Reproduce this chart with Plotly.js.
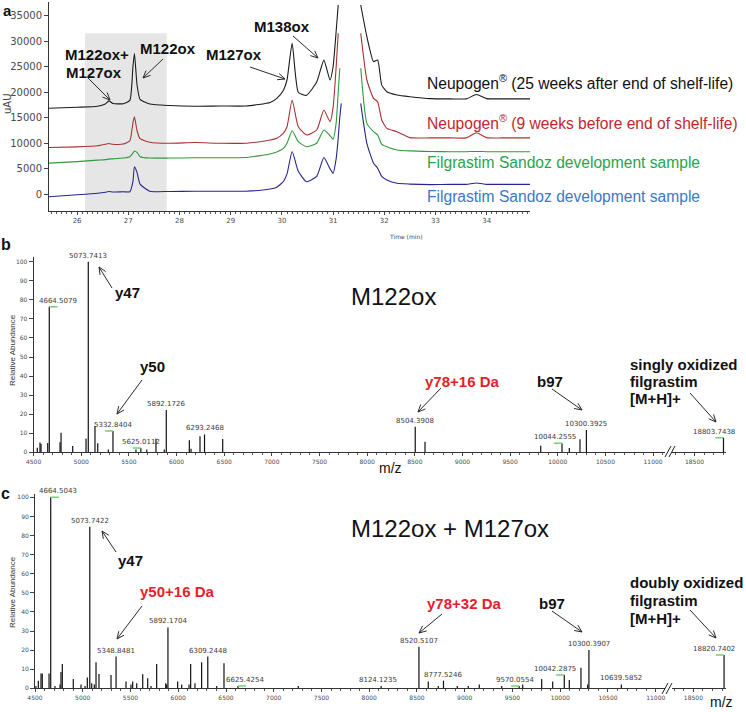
<!DOCTYPE html>
<html><head><meta charset="utf-8">
<script src="https://cdn.plot.ly/plotly-3.0.1.min.js"></script>
<style>html,body{margin:0;padding:0;background:#fff}#chart{width:746px;height:712px}</style>
</head><body><div id="chart"></div>
<script>
// ---------- Panel a: chromatograms (Time, min vs uAU) ----------
const timeMin = [25.45, 26.0, 26.4, 26.55, 26.62, 26.7, 26.9, 27.03, 27.09, 27.12, 27.17, 27.23, 27.42, 27.8, 28.3, 28.8, 29.3, 29.77, 29.9, 30.03, 30.1, 30.2, 30.32, 30.48, 30.68, 30.82, 30.94, 31.0, 31.06, 31.1, 31.13, 31.16, 31.3, 31.54, 31.66, 31.79, 31.87, 31.95, 32.05, 32.25, 32.5, 32.9, 33.3, 33.6, 33.8, 34.0, 34.3, 34.85];
const neupogen25wAfter = [16850, 17050, 17250, 17700, 18300, 17800, 17750, 18400, 25000, 27600, 21500, 18600, 17700, 17400, 17250, 17300, 17300, 18000, 18800, 20400, 22400, 29600, 20000, 19400, 22000, 26300, 22400, 25000, 32000, 37100, null, null, null, 37100, 30900, 26000, 26300, 21400, 20100, 19460, 19130, 18750, 18700, 18700, 19550, 18750, 18700, 18700];
const neupogen9wBefore = [9170, 9300, 9500, 9800, 9950, 9800, 9850, 10500, 14000, 15200, 12500, 10900, 10200, 10000, 10150, 10000, 10000, 10640, 11000, 12000, 13250, 18480, 13250, 11620, 12600, 16520, 14230, 17000, 25000, 31550, null, null, null, 31550, 22400, 18800, 18150, 14560, 12930, 12270, 11100, 11050, 11050, 11050, 12050, 11100, 11050, 11050];
const sandozDevA = [6100, 6400, 6700, 6800, 6900, 6950, 7100, 7370, 8100, 8490, 8200, 7370, 7100, 7100, 7150, 7150, 7200, 7900, 8300, 9000, 10000, 12460, 10300, 9330, 10000, 12600, 11500, 10800, 14000, 20000, 24690, null, null, 24690, 13900, 12270, 11620, 9800, 9330, 8680, 8500, 8400, 8350, 8350, 8400, 8350, 8350, 8330];
const sandozDevB = [-470, -100, 200, 400, 550, 450, 500, 510, 2500, 5400, 4300, 2000, 600, 550, 600, 600, 600, 1040, 1400, 2500, 4000, 8400, 4500, 2470, 3500, 7200, 5000, 4120, 7000, 11000, 15000, 17830, null, 17830, 10000, 6080, 5100, 3500, 2800, 2160, 2000, 1900, 1950, 1950, 2200, 1950, 1950, 1950];
const seriesLabels = ['Neupogen<sup>®</sup> (25 weeks after end of shelf-life)', 'Neupogen<sup>®</sup> (9 weeks before end of shelf-life)', 'Filgrastim Sandoz development sample', 'Filgrastim Sandoz development sample'];
const shadedWindow = [26.155, 27.75];   // time window highlighted
const shadedTop = 31550;

// ---------- Panel b: M122ox spectrum ----------
const bMz = [4539, 4567, 4578, 4648, 4664.5079, 4777, 4788, 4910, 5050, 5073.7413, 5144, 5173, 5284, 5332.8404, 5574, 5625.0112, 5687, 5784, 5871, 5892.1726, 6134, 6152, 6246, 6293.2468, 6484, 8504.3908, 8607, 9821, 10044.2555, 10121, 10233, 10300.3925, 18803.7438];
const bAbund = [2.4, 5.2, 4.5, 4.9, 76.4, 5.3, 10.3, 3.3, 7.3, 100, 13.8, 4.7, 1.5, 11.2, 1.5, 2.3, 1.5, 7.1, 1.5, 22.2, 6.3, 1.8, 8.4, 9.4, 7.0, 13.4, 5.6, 3.5, 4.7, 2.3, 6.8, 11.7, 7.7];
const bLabelled = [4664.5079, 5073.7413, 5332.8404, 5625.0112, 5892.1726, 6293.2468, 8504.3908, 10044.2555, 10300.3925, 18803.7438];
const bMarked = [4664.5079, 5332.8404, 5625.0112, 10044.2555, 18803.7438];

// ---------- Panel c: M122ox + M127ox spectrum ----------
const cMz = [4510, 4535, 4563, 4576, 4647, 4664.5043, 4709, 4762, 4772, 4786, 4901, 4982, 5024, 5048, 5073.7422, 5094, 5121, 5139, 5170, 5296, 5348.8481, 5453, 5505, 5523, 5565, 5628, 5680, 5715, 5774, 5869, 5879, 5892.1704, 5994, 6036, 6113, 6130, 6175, 6245, 6309.2448, 6403, 6479, 6625.4254, 7257, 8124.1235, 8520.5107, 8618, 8723, 8777.5246, 8922, 9037, 9152, 9387, 9570.0554, 9607, 9806, 9921, 10042.2875, 10095, 10217, 10287, 10300.3907, 10639.5852, 18820.7402];
const cAbund = [1.2, 4, 7.8, 7.8, 7.8, 100, 1.2, 2, 8.5, 12.7, 4.9, 2, 1.2, 5.7, 84.6, 2.6, 2, 13.6, 7.5, 7, 16.6, 3.5, 2, 3.5, 2.6, 7.4, 5.2, 1.2, 12.7, 2.6, 2, 31.9, 3.5, 2, 2, 12.7, 2.6, 13.6, 16.6, 1.2, 13.1, 1.2, 1.2, 1.2, 21.8, 3.5, 1.2, 4, 1.2, 1.2, 2, 1.2, 1.2, 2, 4.9, 3.5, 7, 4.3, 10.8, 2, 20, 2, 17.4];
const cLabelled = [4664.5043, 5073.7422, 5348.8481, 5892.1704, 6309.2448, 6625.4254, 8124.1235, 8520.5107, 8777.5246, 9570.0554, 10042.2875, 10300.3907, 10639.5852, 18820.7402];
const cMarked = [4664.5043, 6625.4254, 9570.0554, 10042.2875, 18820.7402];

const axisBreakMz = 15000;

// ---------- styling ----------
const W = 746, H = 712;
const px = x => x / W, py = y => 1 - y / H;
const ARIAL = 'Liberation Sans, Arial, sans-serif';
const DEJA = 'DejaVu Sans, sans-serif';
const traceColors = ['#1c1c1c', '#a83230', '#2f9a3d', '#262690'];
const textColors = ['#111111', '#c0282d', '#27a54a', '#3a78c6'];
const labelYs = [82, 122, 163, 196];
const labelShift = {'4664.5079': 9, '10044.2555': -7, '18803.7438': -9, '4664.5043': 7, '10042.2875': -9, '18820.7402': -10, '6625.4254': 7, '8124.1235': -3, '9570.0554': -4};

const traces = [];
const seriesData = [neupogen25wAfter, neupogen9wBefore, sandozDevA, sandozDevB];
seriesData.forEach((ys, i) => traces.push({
  x: timeMin, y: ys, type: 'scatter', mode: 'lines', xaxis: 'x', yaxis: 'y',
  line: {color: traceColors[i], width: 1.1, shape: 'spline', smoothing: 0.5}, connectgaps: false, hoverinfo: 'skip'
}));

function sticks(mz, ab, left, xa, ya) {
  const xs = [], ys = [];
  mz.forEach((m, i) => { if ((m < axisBreakMz) === left) { xs.push(m, m, null); ys.push(0, ab[i], null); } });
  return {x: xs, y: ys, type: 'scatter', mode: 'lines', xaxis: xa, yaxis: ya, line: {color: '#111', width: 1.2}, hoverinfo: 'skip'};
}
traces.push(sticks(bMz, bAbund, true, 'x2', 'y2'), sticks(bMz, bAbund, false, 'x3', 'y2'));
traces.push(sticks(cMz, cAbund, true, 'x4', 'y3'), sticks(cMz, cAbund, false, 'x5', 'y3'));

const annotations = [];
const shapes = [];
function txt(x, y, text, size, opts) {
  annotations.push(Object.assign({xref: 'paper', yref: 'paper', x: px(x), y: py(y), text: text, showarrow: false,
    xanchor: 'center', yanchor: 'middle', font: {family: ARIAL, size: size, color: '#111'}}, opts || {}));
}
function arrow(x1, y1, x2, y2) {
  const ang = Math.atan2(y2 - y1, x2 - x1), L = 8, a = 0.42;
  const w1 = [x2 - L * Math.cos(ang - a), y2 - L * Math.sin(ang - a)];
  const w2 = [x2 - L * Math.cos(ang + a), y2 - L * Math.sin(ang + a)];
  shapes.push({type: 'path', xref: 'paper', yref: 'paper', line: {color: '#2a2a2a', width: 1},
    path: `M${px(x1)},${py(y1)} L${px(x2)},${py(y2)} M${px(w1[0])},${py(w1[1])} L${px(x2)},${py(y2)} L${px(w2[0])},${py(w2[1])}`});
}
function slash(x1, y1, x2, y2) {
  shapes.push({type: 'line', xref: 'paper', yref: 'paper', x0: px(x1), y0: py(y1), x1: px(x2), y1: py(y2), line: {color: '#222', width: 1}});
}

// panel letters
txt(1, 0, '<b>a</b>', 15, {xanchor: 'left', yanchor: 'top'}); txt(6, 244, '<b>b</b>', 16); txt(5, 493, '<b>c</b>', 16);

// panel a labels
txt(63, 54, '<b>M122ox+</b>', 15, {xanchor: 'left'});
txt(64, 72, '<b>M127ox</b>', 15, {xanchor: 'left'});
txt(168, 49, '<b>M122ox</b>', 15);
txt(234, 54, '<b>M127ox</b>', 15);
txt(282, 27, '<b>M138ox</b>', 15);
arrow(88, 78, 110, 100); arrow(163, 59, 143, 78); arrow(250, 67, 285, 79); arrow(293, 36, 318, 58);
seriesLabels.forEach((s, i) => txt(425, labelYs[i], s, 15.6, {xanchor: 'left', font: {family: ARIAL, size: 15.6, color: textColors[i]}}));
shapes.push({type: 'rect', xref: 'x', yref: 'y', x0: shadedWindow[0], x1: shadedWindow[1], y0: -3273, y1: shadedTop,
  fillcolor: '#e6e6e6', line: {width: 0}, layer: 'below'});
txt(7, 103, 'uAU', 10, {textangle: -90, font: {family: DEJA, size: 10, color: '#444'}});
txt(406, 236, 'Time (min)', 6, {font: {family: DEJA, size: 6, color: '#444'}});

// panel b labels
txt(393, 296, 'M122ox', 24);
txt(127, 293, '<b>y47</b>', 15); arrow(112, 288, 99, 267);
txt(152, 366, '<b>y50</b>', 15); arrow(142, 380, 117, 414);
txt(462, 381, '<b>y78+16 Da</b>', 15, {font: {family: ARIAL, size: 15, color: '#e8202a'}}); arrow(441, 388, 418, 412);
txt(550, 381, '<b>b97</b>', 15); arrow(552, 389, 582, 410);
txt(628, 364, '<b>singly oxidized</b>', 15, {xanchor: 'left'});
txt(628, 381, '<b>filgrastim</b>', 15, {xanchor: 'left'});
txt(628, 398, '<b>[M+H]+</b>', 15, {xanchor: 'left'});
arrow(690, 393, 716, 422);
txt(390, 468, 'm/z', 14);
txt(12, 350, 'Relative Abundance', 8, {textangle: -90, font: {family: ARIAL, size: 8, color: '#333'}});
slash(665, 457, 671, 446); slash(669, 457, 675, 446);

// panel c labels
txt(450, 528, 'M122ox + M127ox', 24);
txt(130, 560, '<b>y47</b>', 15); arrow(116, 552, 102, 531);
txt(177, 591, '<b>y50+16 Da</b>', 15, {font: {family: ARIAL, size: 15, color: '#e8202a'}}); arrow(142, 606, 117, 639);
txt(464, 603, '<b>y78+32 Da</b>', 15, {font: {family: ARIAL, size: 15, color: '#e8202a'}}); arrow(442, 614, 419, 633);
txt(552, 603, '<b>b97</b>', 15); arrow(552, 611, 582, 632);
txt(628, 582, '<b>doubly oxidized</b>', 15, {xanchor: 'left'});
txt(628, 600, '<b>filgrastim</b>', 15, {xanchor: 'left'});
txt(628, 618, '<b>[M+H]+</b>', 15, {xanchor: 'left'});
arrow(690, 610, 716, 638);
txt(721, 702, 'm/z', 14);
txt(12, 592, 'Relative Abundance', 8, {textangle: -90, font: {family: ARIAL, size: 8, color: '#333'}});
slash(662, 694, 668, 683); slash(666, 694, 672, 683);

// peak value labels and green centroid marks
function peakLabels(labels, marked, mz, ab, xl, xr, ya) {
  labels.forEach(m => {
    const i = mz.indexOf(m), key = m.toFixed(4);
    annotations.push({xref: m < axisBreakMz ? xl : xr, yref: ya, x: m, y: ab[i], text: key, showarrow: false,
      xanchor: 'center', yanchor: 'bottom', yshift: 0, xshift: labelShift[key] || 0,
      font: {family: DEJA, size: 7, color: '#3a3a3a'}});
  });
  marked.forEach(m => {
    const i = mz.indexOf(m), key = m.toFixed(4);
    const dir = (labelShift[key] || 0) > 0 ? 1 : -1;
    shapes.push({type: 'line', xref: m < axisBreakMz ? xl : xr, yref: ya, x0: m, x1: m + dir * 85, y0: ab[i], y1: ab[i],
      line: {color: '#7acb7a', width: 1.5}});
  });
}
peakLabels(bLabelled, bMarked, bMz, bAbund, 'x2', 'x3', 'y2');
peakLabels(cLabelled, cMarked, cMz, cAbund, 'x4', 'x5', 'y3');

const tickGray = '#4a4a4a';
function xAx(domain, range, anchor, dtick, tick0, minorDt, fsize) {
  return {domain: domain, range: range, anchor: anchor, showline: true, linecolor: '#333', linewidth: 1,
    ticks: 'outside', ticklen: 3, tickcolor: '#444', dtick: dtick, tick0: tick0, tickformat: 'd',
    minor: {dtick: minorDt, ticks: 'outside', ticklen: 2, tickcolor: '#555'},
    tickfont: {family: DEJA, size: fsize, color: tickGray}, showgrid: false, zeroline: false, fixedrange: true};
}
function yAx(domain, range, anchor, dtick, fsize) {
  return {domain: domain, range: range, anchor: anchor, showline: true, linecolor: '#333', linewidth: 1,
    ticks: 'outside', ticklen: 4, tickcolor: '#444', dtick: dtick, tick0: 0, tickformat: 'd',
    tickfont: {family: DEJA, size: fsize, color: tickGray}, showgrid: false, zeroline: false, fixedrange: true};
}

const layout = {
  width: W, height: H, margin: {l: 0, r: 0, t: 0, b: 0}, showlegend: false,
  paper_bgcolor: '#fff', plot_bgcolor: 'rgba(0,0,0,0)',
  xaxis: xAx([px(49), px(530)], [25.451, 34.846], 'y', 1, 26, 0.1, 7),
  yaxis: yAx([py(211), py(2)], [-3273, 37685], 'x', 5000, 10),
  xaxis2: xAx([px(33.6), px(665)], [4500, 11125], 'y2', 500, 4500, 100, 6),
  xaxis3: xAx([px(672), px(726)], [18264, 18830], 'y2', 500, 18500, 100, 6),
  yaxis2: yAx([py(452.3), py(257)], [0, 102.5], 'x2', 10, 6),
  xaxis4: xAx([px(35), px(665)], [4500, 11097], 'y3', 500, 4500, 100, 6),
  xaxis5: xAx([px(672), px(726)], [18276, 18841], 'y3', 500, 18500, 100, 6),
  yaxis3: yAx([py(688.3), py(493.5)], [0, 102], 'x4', 10, 6),
  annotations: annotations, shapes: shapes
};

Plotly.newPlot('chart', traces, layout, {displayModeBar: false, staticPlot: true});
</script></body></html>
